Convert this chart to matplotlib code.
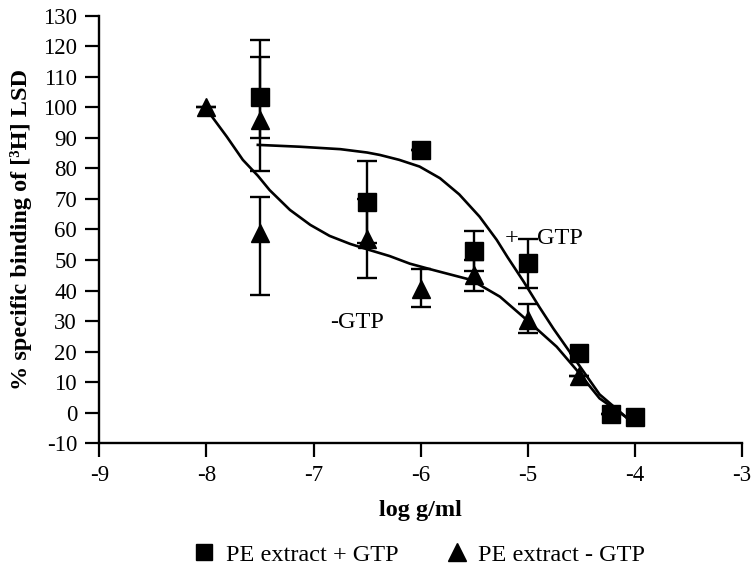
"""
Curva de desplazamiento de [3H]LSD por extracto PE, con y sin GTP.
Genera out.png
"""

import matplotlib.pyplot as plt
from matplotlib.lines import Line2D

plt.rcParams["font.family"] = ["Liberation Serif", "DejaVu Serif"]

# --- Datos ---
# PE extract + GTP (cuadrados)
x_plus = [-7.5, -6.5, -6.0, -5.5, -5.0, -4.52, -4.22, -4.0]
y_plus = [103.5, 69, 86, 53, 49, 19.5, -0.5, -1.5]
lo_plus = [13.5, 13.5, 0, 6.5, 8, 0, 0, 0]
hi_plus = [18.5, 13.5, 0, 6.5, 8, 0, 0, 0]

# PE extract - GTP (triangulos)
x_minus = [-8.0, -7.5, -7.5, -6.5, -6.0, -5.5, -5.0, -4.52]
y_minus = [100, 96, 59, 57, 40.5, 45, 30.5, 12]
lo_minus = [0, 17, 20.5, 13, 6, 5, 4.5, 0]
hi_minus = [0, 20.5, 11.5, 13, 6.5, 5, 5, 0]

# curvas ajustadas (puntos leidos sobre la linea)
fit_plus_x = [-7.52, -7.13, -6.75, -6.5, -6.38, -6.2, -6.01, -5.82, -5.64,
              -5.45, -5.29, -5.19, -5.04, -4.89, -4.76, -4.53, -4.33, -4.08]
fit_plus_y = [87.7, 87.1, 86.3, 85.2, 84.4, 82.8, 80.6, 76.8, 71.5,
              64.2, 56.6, 51.0, 43.0, 34.5, 27.5, 16.0, 6.0, -1.5]
fit_minus_x = [-7.97, -7.81, -7.66, -7.52, -7.41, -7.22, -7.03, -6.85, -6.66,
               -6.48, -6.29, -6.1, -5.88, -5.53, -5.26, -5.01, -4.73, -4.53,
               -4.33, -4.08]
fit_minus_y = [98.0, 90.4, 82.8, 77.6, 72.9, 66.4, 61.5, 57.9, 55.3,
               53.3, 51.3, 48.8, 46.7, 43.5, 38.0, 30.4, 21.6, 13.4,
               4.7, -1.5]

XTICKS = list(range(-9, -2))
YTICKS = list(range(-10, 131, 10))
FS = 17.5

fig = plt.figure(figsize=(7.55, 5.69), dpi=100)
ax = fig.add_axes([0.1315, 0.221, 0.8513, 0.7514])

ax.plot(fit_plus_x, fit_plus_y, color="black", lw=1.9, zorder=2,
        solid_joinstyle="round")
ax.plot(fit_minus_x, fit_minus_y, color="black", lw=1.9, zorder=2,
        solid_joinstyle="round")

ax.errorbar(x_minus, y_minus, yerr=[lo_minus, hi_minus], fmt="^", ms=13,
            color="black", ecolor="black", elinewidth=1.7, capsize=7,
            capthick=1.7, zorder=3)
ax.errorbar(x_plus, y_plus, yerr=[lo_plus, hi_plus], fmt="s", ms=12.5,
            color="black", ecolor="black", elinewidth=1.7, capsize=7,
            capthick=1.7, zorder=4)

ax.text(-5.21, 57, "+   GTP", fontsize=FS, ha="left", va="center")
ax.text(-6.59, 29.5, "-GTP", fontsize=FS, ha="center", va="center")

ax.set_xlim(-9, -3)
ax.set_ylim(-10, 130)
ax.set_xticks(XTICKS)
ax.set_yticks(YTICKS)
ax.set_xticklabels([str(v) for v in XTICKS])
ax.set_yticklabels([str(v) for v in YTICKS])
ax.tick_params(direction="out", length=10, width=1.6, labelsize=16.5, pad=6)
for s in ["top", "right"]:
    ax.spines[s].set_visible(False)
for s in ["left", "bottom"]:
    ax.spines[s].set_linewidth(1.7)

ax.set_xlabel("log g/ml", fontsize=FS, fontweight="bold", labelpad=10)
ax.set_ylabel("% specific binding of [³H] LSD", fontsize=FS, fontweight="bold",
              labelpad=8)

# leyenda solo con marcadores
h_plus = Line2D([], [], ls="none", marker="s", ms=12, color="black")
h_minus = Line2D([], [], ls="none", marker="^", ms=13, color="black")
fig.legend([h_plus, h_minus], ["PE extract + GTP", "PE extract - GTP"],
           loc="center", bbox_to_anchor=(0.556, 0.025), ncol=2,
           frameon=False, fontsize=FS, handlelength=0.8, handletextpad=0.5,
           columnspacing=2.0)

fig.savefig("out.png", dpi=100)
